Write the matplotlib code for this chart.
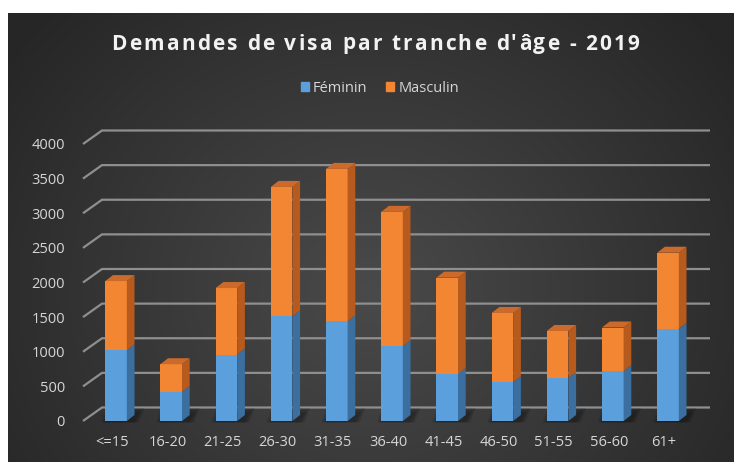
import numpy as np
import matplotlib.pyplot as plt
from matplotlib.patches import Polygon, Patch

# Data
categories = ['<=15', '16-20', '21-25', '26-30', '31-35', '36-40',
              '41-45', '46-50', '51-55', '56-60', '61+']
feminin = [1020, 420, 960, 1510, 1440, 1080, 680, 560, 620, 720, 1330]
masculin = [1000, 400, 960, 1870, 2200, 1940, 1390, 1000, 680, 630, 1100]
yticks = [0, 500, 1000, 1500, 2000, 2500, 3000, 3500, 4000]
title = "Demandes de visa par tranche d'âge - 2019"

W, H = 734, 462
fig = plt.figure(figsize=(W / 100, H / 100), dpi=100)
fig.patch.set_facecolor('white')

# dark radial background panel
bg = fig.add_axes([8 / W, 0, 1 - 8 / W, (H - 13) / H])
yy, xx = np.mgrid[0:1:300j, 0:1:450j]
r = np.sqrt(((xx - 0.5) / 0.62) ** 2 + ((yy - 0.62) / 0.9) ** 2)
shade = np.clip(0.29 - 0.14 * r, 0.15, 0.3)
bg.imshow(np.dstack([shade] * 3), aspect='auto', extent=[0, 1, 0, 1], interpolation='bilinear')
bg.axis('off')

# main axes, pixel box: x 83..712, bottom y 421, top y 110
ppx = 55.2      # pixels per category
ppv = 0.06925   # pixels per unit value
left, right, bottom, top = 83, 712, 421, 110
ax = fig.add_axes([left / W, (H - bottom) / H, (right - left) / W, (bottom - top) / H])
ax.set_xlim((left - 116) / ppx, (right - 116) / ppx)
ax.set_ylim(0, (bottom - top) / ppv)
ax.patch.set_alpha(0)
for s in ax.spines.values():
    s.set_visible(False)

font = 'Open Sans'
txt_c = '#d6d6d6'
grid_c = '#8f8f8f'
gx0, gx1, gx2 = (83 - 116) / ppx, (102 - 116) / ppx, (710 - 116) / ppx
gdy = 195
for v in yticks:
    ax.plot([gx0, gx1, gx2], [v, v + gdy, v + gdy], color=grid_c, lw=1.6,
            clip_on=False, zorder=1, solid_capstyle='butt')

x = np.arange(len(categories))
w = 21.6 / ppx
ddx = 7.7 / ppx
ddy = 6 / ppv
fem = np.array(feminin)
tot = fem + np.array(masculin)

# soft floor shadows
for xi in x:
    for k, a in enumerate([0.12, 0.12, 0.12]):
        e = 0.04 * k
        ax.add_patch(Polygon([(xi - w / 2 - e, -20), (xi + w / 2 + ddx + e, -20),
                              (xi + w / 2 + ddx + 0.1 + e, ddy + 40 + 30 * k),
                              (xi - w / 2 + 0.1 - e, ddy + 40 + 30 * k)],
                             closed=True, color='black', alpha=a, lw=0, zorder=2, clip_on=False))

ax.bar(x, fem, width=w, color='#5b9fdd', zorder=3, label='Féminin')
ax.bar(x, masculin, bottom=fem, width=w, color='#f28633', zorder=3, label='Masculin')
for xi, f, t in zip(x, fem, tot):
    r0 = xi + w / 2
    ax.add_patch(Polygon([(r0, 0), (r0 + ddx, ddy), (r0 + ddx, f + ddy), (r0, f)],
                         closed=True, color='#3a6fa0', lw=0, zorder=3))
    ax.add_patch(Polygon([(r0, f), (r0 + ddx, f + ddy), (r0 + ddx, t + ddy), (r0, t)],
                         closed=True, color='#b65a1e', lw=0, zorder=3))
    ax.add_patch(Polygon([(xi - w / 2, t), (xi - w / 2 + ddx, t + ddy), (r0 + ddx, t + ddy), (r0, t)],
                         closed=True, color='#cc6a2c', lw=0, zorder=3))

ax.set_xticks(x - 0.07)
ax.set_xticklabels(categories, fontsize=10.5, family=font, color=txt_c)
ax.set_yticks(yticks)
ax.set_yticklabels([str(v) for v in yticks], fontsize=10.5, family=font, color=txt_c)
ax.tick_params(length=0)
ax.tick_params(axis='x', pad=10)
ax.tick_params(axis='y', pad=13)

# letter-spaced title, drawn char by char
renderer = fig.canvas.get_renderer()
tkw = dict(fontsize=15, fontweight='bold', family=font, color='#f2f2f2', va='center')
def text_w(s):
    t = fig.text(0, 0, s + '|', **tkw)
    w1 = t.get_window_extent(renderer).width
    t.remove()
    t = fig.text(0, 0, '|', **tkw)
    w2 = t.get_window_extent(renderer).width
    t.remove()
    return w1 - w2
spacing = 2.2
full = text_w(title) + spacing * (len(title) - 1)
x0 = 375.5 - full / 2
for i, ch in enumerate(title):
    px = x0 + text_w(title[:i]) + spacing * i
    fig.text(px / W, 1 - 44 / H, ch, ha='left', **tkw)

handles = [Patch(color='#5b9fdd'), Patch(color='#f28633')]
fig.legend(handles, ['Féminin', 'Masculin'], loc='center', bbox_to_anchor=(380 / W, 1 - 88 / H),
           ncol=2, frameon=False, prop={'family': font, 'size': 10.5},
           labelcolor=txt_c, handlelength=0.55, handleheight=0.55, handletextpad=0.3,
           columnspacing=1.3)

fig.savefig('out.png', dpi=100)
